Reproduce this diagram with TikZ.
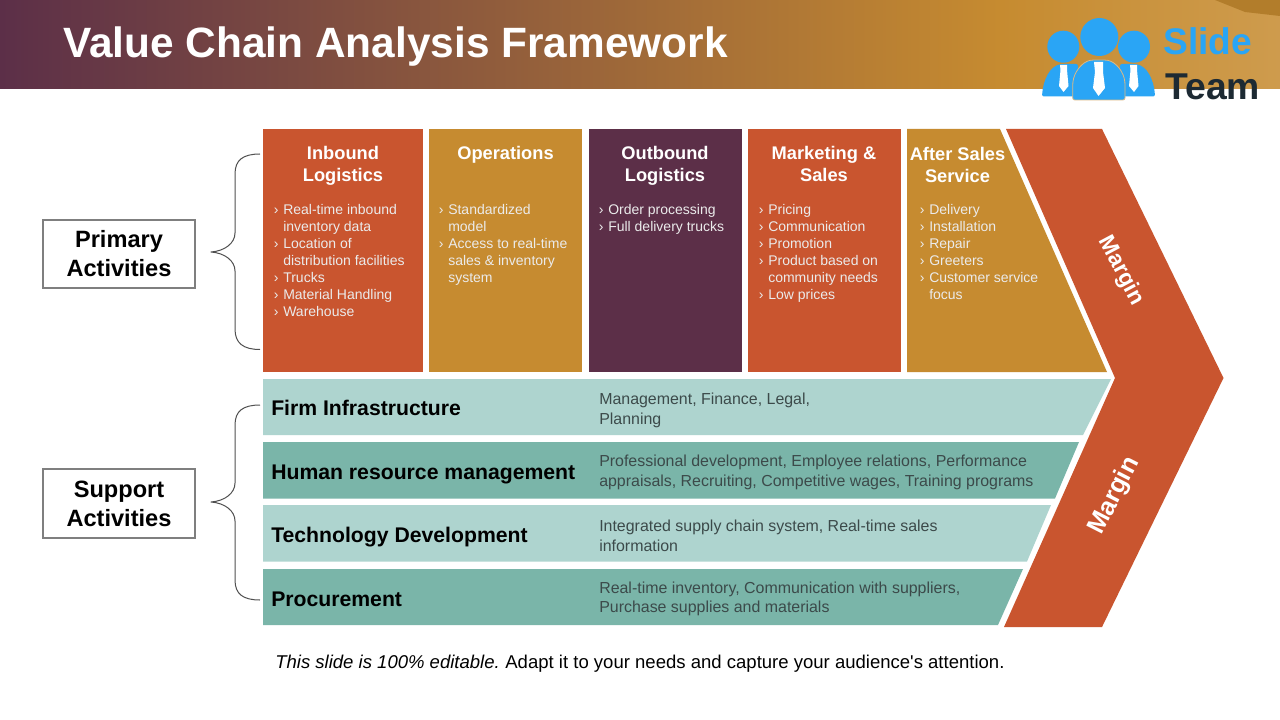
\documentclass[tikz,border=0pt]{standalone}
\usepackage{fontspec}
\setmainfont{Liberation Sans}
\newfontfamily\plainfont{Liberation Sans}
\definecolor{rust}{HTML}{C9552F}
\definecolor{ochre}{HTML}{C68B30}
\definecolor{plum}{HTML}{5C2F48}
\definecolor{tealL}{HTML}{AED4CF}
\definecolor{tealD}{HTML}{7AB5A9}
\definecolor{logoblue}{HTML}{2AA5F5}
\definecolor{logodark}{HTML}{1D2A33}
\definecolor{txtgrey}{HTML}{3C4A4A}
\definecolor{boxgrey}{HTML}{7F7F7F}
\definecolor{bracegrey}{HTML}{505050}
\tikzset{
 head/.style={text=white,font=\fontsize{13.7}{16.5}\selectfont\bfseries,align=center,anchor=center,inner sep=0pt},
 items/.style={text=white!92!black,font=\fontsize{10.5}{12.75}\selectfont,align=left,anchor=north west,inner sep=0pt},
 rowlabel/.style={text=black,font=\fontsize{15.9}{18}\selectfont\bfseries,anchor=base west,inner sep=0pt},
 rowtext/.style={text=txtgrey,font=\fontsize{11.95}{14.6}\selectfont,align=left,anchor=west,inner sep=0pt},
 sidebox/.style={draw=boxgrey,line width=1.5pt,fill=white,minimum width=114pt,minimum height=51.5pt,align=center,font=\fontsize{17.7}{21.8}\selectfont\bfseries,inner sep=0pt},
 brace/.style={draw=bracegrey,line width=0.75pt,line join=round},
 margintext/.style={text=white,font=\fontsize{17}{18}\selectfont\bfseries,inner sep=0pt},
 logotie/.style={fill=white},
}
\newcommand{\bul}{\llap{›\hspace{3.6pt}}}
\begin{document}
\begin{tikzpicture}[x=0.75pt,y=-0.75pt]
\useasboundingbox (0,0) rectangle (1280,720);
\fill[white] (0,0) rectangle (1280,720);
% header
\shade[left color=plum,right color=ochre] (0,0) rectangle (1000,89);
\shade[left color=ochre,right color=ochre!86!white] (1000,0) rectangle (1280,89);
\fill[ochre!90!black] (1215,0) -- (1280,0) -- (1280,16) -- (1245,12) -- cycle;
\node[anchor=base west,text=white,font=\fontsize{31.8}{38}\selectfont\bfseries,inner sep=0pt] (title) at (63,58) {Value Chain Analysis Framework};
% logo
\fill[logoblue,rounded corners=1.5pt] (1042,96.5) .. controls (1043,80) and (1050,66) .. (1062,64) -- (1078,64) -- (1078,96.5) -- cycle;
\fill[logoblue,rounded corners=1.5pt] (1155,96.5) .. controls (1154,80) and (1147,66) .. (1135,64) -- (1120,64) -- (1120,96.5) -- cycle;
\fill[logoblue] (1063.3,46.7) circle (16);
\fill[logoblue] (1134,46.7) circle (16);
\fill[logoblue,draw=ochre!60!white,line width=0.6pt,rounded corners=1.5pt] (1072.7,100) -- (1072.7,84) .. controls (1074,72) and (1082,62) .. (1092,60) -- (1106,60) .. controls (1116,62) and (1124,72) .. (1125,84) -- (1125,100) -- cycle;
\fill[logoblue] (1099.3,37) circle (19);
\fill[logotie] (1060,65) -- (1067,65) -- (1067,70) -- (1068.5,86) -- (1063.5,92) -- (1059,86) -- (1060.5,70) -- cycle;
\fill[logotie] (1130,65) -- (1137,65) -- (1137,70) -- (1138.5,86) -- (1134,92) -- (1129,86) -- (1130.5,70) -- cycle;
\fill[logotie] (1094,62) -- (1103,62) -- (1103,72) -- (1105,88) -- (1098.5,96) -- (1093,88) -- (1095,72) -- cycle;
\node[text=logoblue,font=\fontsize{27.8}{30}\selectfont\bfseries,anchor=base west,inner sep=0pt] (slide) at (1163,55) {Slide};
\node[text=logodark,font=\fontsize{28}{30}\selectfont\bfseries,anchor=base west,inner sep=0pt] (team) at (1165,100) {Team};
% primary columns
\fill[rust] (263,129) rectangle (423,372);
\fill[ochre] (429,129) rectangle (582,372);
\fill[plum] (588.5,129) rectangle (742,372);
\fill[rust] (748,129) rectangle (901,372);
\fill[ochre] (907,129) -- (1000,129) -- (1107,372) -- (907,372) -- cycle;
\node[head] (h1) at (343,166) {Inbound\\Logistics};
\node[head] (h2) at (505.5,155) {Operations};
\node[head] (h3) at (665,166) {Outbound\\Logistics};
\node[head] (h4) at (824,164) {Marketing \&\\Sales};
\node[head] (h5) at (957.5,165) {After Sales\\Service};
\node[items] (i1) at (283,204) {\bul Real-time inbound\\inventory data\\\bul Location of\\distribution facilities\\\bul Trucks\\\bul Material Handling\\\bul Warehouse};
\node[items] (i2) at (448,204) {\bul Standardized\\model\\\bul Access to real-time\\sales \& inventory\\system};
\node[items] (i3) at (608,204) {\bul Order processing\\\bul Full delivery trucks};
\node[items] (i4) at (768,204) {\bul Pricing\\\bul Communication\\\bul Promotion\\\bul Product based on\\community needs\\\bul Low prices};
\node[items] (i5) at (929,204) {\bul Delivery\\\bul Installation\\\bul Repair\\\bul Greeters\\\bul Customer service\\focus};
% support rows
\fill[tealL] (263,379) -- (1111,379) -- (1083,435) -- (263,435) -- cycle;
\fill[tealD] (263,442) -- (1079,442) -- (1055,498.5) -- (263,498.5) -- cycle;
\fill[tealL] (263,505) -- (1051,505) -- (1027,561.5) -- (263,561.5) -- cycle;
\fill[tealD] (263,569) -- (1023,569) -- (998,625) -- (263,625) -- cycle;
\node[rowlabel] (r1) at (271,415) {Firm Infrastructure};
\node[rowlabel] (r2) at (271,479) {Human resource management};
\node[rowlabel] (r3) at (271,542) {Technology Development};
\node[rowlabel] (r4) at (271,606) {Procurement};
\node[rowtext] (t1) at (599,410.5) {Management, Finance, Legal,\\Planning};
\node[rowtext] (t2) at (599,472.5) {Professional development, Employee relations, Performance\\appraisals, Recruiting, Competitive wages, Training programs};
\node[rowtext] (t3) at (599,536) {Integrated supply chain system, Real-time sales\\information};
\node[rowtext] (t4) at (599,599) {Real-time inventory, Communication with suppliers,\\Purchase supplies and materials};
% chevron
\fill[rust] (1006,129) -- (1102,129) -- (1223.5,378) -- (1102,627) -- (1004,627) -- (1115,378) -- cycle;
\node[margintext,rotate=-62] (m1) at (1121,271) {Margin};
\node[margintext,rotate=63,font=\fontsize{19}{20}\selectfont\bfseries] (m2) at (1114.5,496) {Margin};
% side boxes
\node[sidebox] (primary) at (119,254) {Primary\\Activities};
\node[sidebox] (support) at (119,503.5) {Support\\Activities};
% braces
\coordinate (p1) at (260,154);
\coordinate (p2) at (260,349.5);
\coordinate (ptip) at (211,252);
\coordinate (s1) at (260,405);
\coordinate (s2) at (260,600);
\coordinate (stip) at (211,502);
\draw[brace] (p1) .. controls (243,154) and (235,160) .. (235,174) -- (235,233) .. controls (235,243) and (225,251) .. (ptip) .. controls (225,253) and (235,261) .. (235,271) -- (235,329) .. controls (235,343) and (243,349.5) .. (p2);
\draw[brace] (s1) .. controls (243,405) and (235,411) .. (235,425) -- (235,483) .. controls (235,493) and (225,501) .. (stip) .. controls (225,503) and (235,511) .. (235,521) -- (235,580) .. controls (235,594) and (243,600) .. (s2);
% footer
\node[anchor=base west,text=black,font=\fontsize{13.9}{16}\selectfont,inner sep=0pt] (foot) at (275,668) {\itshape This slide is 100\% editable.\hspace{-1pt} \upshape Adapt it to your needs and capture your audience{\plainfont 's} attention.};
\end{tikzpicture}
\end{document}
